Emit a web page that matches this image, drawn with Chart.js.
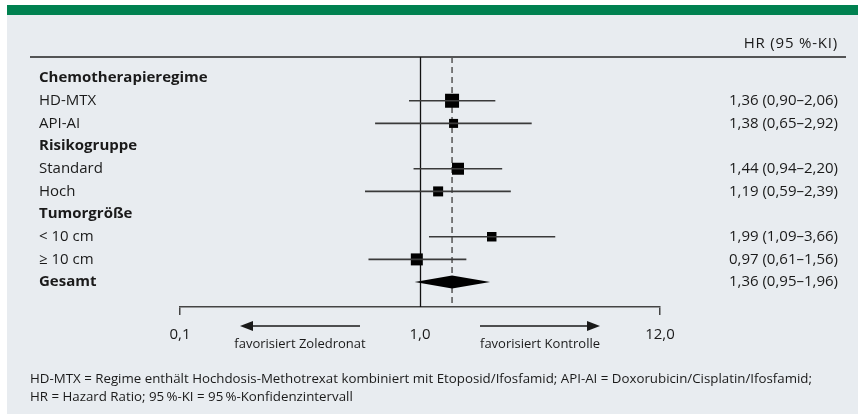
<!DOCTYPE html>
<html lang="de">
<head>
<meta charset="utf-8">
<title>Forest-Plot HR (95 %-KI)</title>
<script src="https://cdn.jsdelivr.net/npm/chart.js@4.4.1/dist/chart.umd.min.js"></script>
<style>
  html, body { margin: 0; padding: 0; background: #fff; }
  #wrap { width: 858px; height: 414px; }
</style>
</head>
<body>
<div id="wrap"><canvas id="forest" width="858" height="414"></canvas></div>
<script>
// rows of the forest plot, top to bottom
const rowLabels = ['Chemotherapieregime', 'HD-MTX', 'API-AI', 'Risikogruppe', 'Standard', 'Hoch',
  'Tumorgröße', '< 10 cm', '≥ 10 cm', 'Gesamt'];
const headerRows = [0, 3, 6, 9];
const hazardRatios = [null, 1.36, 1.38, null, 1.44, 1.19, null, 1.99, 0.97, 1.36];
const ciLower = [null, 0.90, 0.65, null, 0.94, 0.59, null, 1.09, 0.61, 0.95];
const ciUpper = [null, 2.06, 2.92, null, 2.20, 2.39, null, 3.66, 1.56, 1.96];
const totalRow = 9;

// x axis (log) ticks as printed
const xTickValues = [0.1, 1, 10];
const xTickLabels = ['0,1', '1,0', '12,0'];

const favourLabels = ['favorisiert Zoledronat', 'favorisiert Kontrolle'];
const columnHeader = 'HR (95 %-KI)';
const footnoteLines = [
  'HD-MTX = Regime enthält Hochdosis-Methotrexat kombiniert mit Etoposid/Ifosfamid; API-AI = Doxorubicin/Cisplatin/Ifosfamid;',
  'HR = Hazard Ratio; 95\u2009%-KI = 95\u2009%-Konfidenzintervall'
];

const FONT = "'Open Sans', 'Noto Sans', sans-serif";
const TEXT = '#1a1a1a';
const BG = '#e8ecf0';
const GREEN = '#008150';
const squareSides = [14, 9, 12, 10, 9.5, 12];
const LEFT_PAD = 39;
const LEFT_AXIS_W = 141;

const fmt = v => v.toFixed(2).replace('.', ',');
const rightLabels = hazardRatios.map((v, i) =>
  v == null ? '' : `${fmt(v)} (${fmt(ciLower[i])}–${fmt(ciUpper[i])})`);

// CI whiskers as one line dataset, broken by null points
const ciData = [];
const pointData = [];
hazardRatios.forEach((v, i) => {
  if (v == null || i === totalRow) return;
  ciData.push({ x: ciLower[i], y: i }, { x: ciUpper[i], y: i }, { x: ciUpper[i], y: null });
  pointData.push({ x: v, y: i });
});

const decor = {
  id: 'decor',
  beforeDraw(chart) {
    const { ctx, width, height } = chart;
    ctx.save();
    ctx.fillStyle = '#fff';
    ctx.fillRect(0, 0, width, height);
    ctx.fillStyle = BG;
    ctx.fillRect(7, 5, width - 7, height - 5);
    ctx.fillStyle = GREEN;
    ctx.fillRect(7, 5, width - 7, 10);
    ctx.restore();
  },
  beforeDatasetsDraw(chart) {
    const { ctx, chartArea: a, scales: { x } } = chart;
    ctx.save();
    // header rule
    ctx.strokeStyle = '#222';
    ctx.lineWidth = 1.3;
    ctx.beginPath();
    ctx.moveTo(30, a.top);
    ctx.lineTo(846, a.top);
    ctx.stroke();
    // line of no effect
    const x1 = Math.round(x.getPixelForValue(1)) + 0.5;
    ctx.strokeStyle = '#111';
    ctx.beginPath();
    ctx.moveTo(x1, a.top);
    ctx.lineTo(x1, a.bottom);
    ctx.stroke();
    // pooled estimate
    const xp = x.getPixelForValue(hazardRatios[totalRow]);
    ctx.strokeStyle = '#555';
    ctx.lineWidth = 1.5;
    ctx.setLineDash([6, 4]);
    ctx.beginPath();
    ctx.moveTo(xp, a.top);
    ctx.lineTo(xp, a.bottom);
    ctx.stroke();
    ctx.restore();
  },
  afterDatasetsDraw(chart) {
    const { ctx, chartArea: a, scales: { x, y } } = chart;
    ctx.save();
    // diamond for the overall estimate
    const yc = y.getPixelForValue(totalRow);
    ctx.fillStyle = '#000';
    ctx.beginPath();
    ctx.moveTo(x.getPixelForValue(ciLower[totalRow]), yc);
    ctx.lineTo(x.getPixelForValue(hazardRatios[totalRow]), yc - 6.5);
    ctx.lineTo(x.getPixelForValue(ciUpper[totalRow]), yc);
    ctx.lineTo(x.getPixelForValue(hazardRatios[totalRow]), yc + 6.5);
    ctx.closePath();
    ctx.fill();

    // column header
    ctx.fillStyle = TEXT;
    ctx.font = `15px ${FONT}`;
    ctx.textAlign = 'right';
    ctx.textBaseline = 'middle';
    ctx.letterSpacing = '0.8px';
    ctx.fillText(columnHeader, chart.scales.y2.right, a.top - 13);
    ctx.letterSpacing = '0px';

    // direction arrows
    const xm = x.getPixelForValue(1);
    const half = [xm - a.left, a.right - xm];
    const ya = a.bottom + 19;
    const arrows = [
      { from: a.left + half[0] * 0.75, to: a.left + half[0] * 0.25 },
      { from: xm + half[1] * 0.25, to: xm + half[1] * 0.75 }
    ];
    ctx.strokeStyle = TEXT;
    ctx.lineWidth = 1.5;
    arrows.forEach((ar, i) => {
      const dir = Math.sign(ar.to - ar.from);
      ctx.beginPath();
      ctx.moveTo(ar.from, ya);
      ctx.lineTo(ar.to - dir * 8, ya);
      ctx.stroke();
      ctx.beginPath();
      ctx.moveTo(ar.to, ya);
      ctx.lineTo(ar.to - dir * 13, ya - 5);
      ctx.lineTo(ar.to - dir * 13, ya + 5);
      ctx.closePath();
      ctx.fill();
      ctx.font = `13px ${FONT}`;
      ctx.textAlign = 'center';
      ctx.fillText(favourLabels[i], (ar.from + ar.to) / 2, ya + 18);
    });

    // footnote
    ctx.font = `13.3px ${FONT}`;
    ctx.textAlign = 'left';
    footnoteLines.forEach((line, i) => ctx.fillText(line, 30, 379 + i * 18));
    ctx.restore();
  }
};

const rowFont = bold => c => ({
  family: FONT,
  size: 15,
  weight: bold && headerRows.includes(c.tick && c.tick.value) ? 'bold' : 'normal'
});

const rowAxis = (position, labels, width, opts) => ({
  type: 'linear',
  position,
  min: -0.93,
  max: 10.1,
  reverse: true,
  afterBuildTicks: s => { s.ticks = rowLabels.map((_, i) => ({ value: i })); },
  afterFit: s => { s.width = width; },
  grid: { display: false },
  border: { display: false },
  ticks: Object.assign({
    autoSkip: false,
    color: TEXT,
    callback: v => labels[v]
  }, opts)
});

new Chart(document.getElementById('forest'), {
  type: 'scatter',
  data: {
    datasets: [
      {
        label: '95 %-KI',
        data: ciData,
        showLine: true,
        borderColor: '#3a3a3a',
        borderWidth: 1.6,
        pointRadius: 0,
        spanGaps: false,
        yAxisID: 'y'
      },
      {
        label: 'HR',
        data: pointData,
        pointStyle: 'rect',
        pointRadius: squareSides.map(s => s / Math.SQRT2),
        backgroundColor: '#000',
        borderColor: '#000',
        borderWidth: 0,
        yAxisID: 'y'
      }
    ]
  },
  options: {
    responsive: false,
    devicePixelRatio: 1,
    animation: false,
    layout: { padding: { left: LEFT_PAD, right: 20, top: 57, bottom: 60 } },
    plugins: { legend: { display: false }, tooltip: { enabled: false } },
    scales: {
      x: {
        type: 'logarithmic',
        position: 'bottom',
        min: 0.1,
        max: 10,
        afterBuildTicks: s => { s.ticks = xTickValues.map(v => ({ value: v })); },
        afterFit: s => { s.height = 47; },
        border: { display: true, color: '#444', width: 1.5 },
        grid: {
          drawOnChartArea: false,
          drawTicks: true,
          tickLength: 8,
          lineWidth: 1.5,
          color: c => (c.tick && c.tick.value === 1 ? 'rgba(0,0,0,0)' : '#444')
        },
        ticks: {
          autoSkip: false,
          maxRotation: 0,
          padding: 11,
          color: TEXT,
          font: { family: FONT, size: 15 },
          callback: (v, i) => xTickLabels[i]
        }
      },
      // left labels are mirrored (so they are not clipped) and pulled back to the page margin
      y: rowAxis('left', rowLabels, LEFT_AXIS_W, { mirror: true, padding: -LEFT_AXIS_W, font: rowFont(true) }),
      y2: rowAxis('right', rightLabels, 178, { crossAlign: 'far', font: rowFont(false) })
    }
  },
  plugins: [decor]
});
</script>
</body>
</html>
